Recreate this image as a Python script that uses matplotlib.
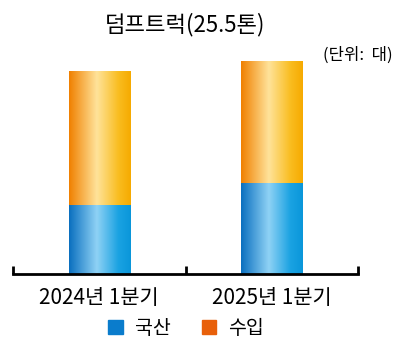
import matplotlib
matplotlib.use("Agg")
import matplotlib.pyplot as plt
import numpy as np
from matplotlib.colors import LinearSegmentedColormap

plt.rcParams['font.family'] = ['Noto Sans CJK KR', 'DejaVu Sans']

categories = ["2024년 1분기", "2025년 1분기"]
domestic = [207, 273]
imported = [402, 366]
series_names = ["국산", "수입"]
title = "덤프트럭(25.5톤)"
unit = "(단위:  대)"

fig = plt.figure(figsize=(4.0, 3.55), dpi=100)
ax = fig.add_axes([13/400, (355-274)/355, 345/400, 240/355])

x = np.arange(len(categories))
w = 0.355
b1 = ax.bar(x, domestic, width=w, color="#0a7ccc", edgecolor="none")
b2 = ax.bar(x, imported, width=w, bottom=domestic, color="#f5a000", edgecolor="none")

blue_cmap = LinearSegmentedColormap.from_list("b", [(0, "#0a6fbf"), (0.45, "#8fd2f5"), (0.8, "#1aa2e2"), (1, "#0a96da")])
orng_cmap = LinearSegmentedColormap.from_list("o", [(0, "#f08000"), (0.45, "#ffe39a"), (0.8, "#f9bd20"), (1, "#f6aa00")])
grad = np.linspace(0, 1, 256).reshape(1, -1)
for bars, cmap in ((b1, blue_cmap), (b2, orng_cmap)):
    for p in bars:
        x0, y0 = p.get_x(), p.get_y()
        im = ax.imshow(grad, cmap=cmap, aspect='auto', extent=[x0, x0 + p.get_width(), y0, y0 + p.get_height()], zorder=2)
        im.set_clip_path(p)

ax.set_xlim(-0.5, 1.5)
ax.set_ylim(0, 720)
for s in ("top", "right", "left"):
    ax.spines[s].set_visible(False)
ax.spines["bottom"].set_linewidth(2)
ax.set_yticks([])
ax.set_xticks(x)
ax.set_xticklabels(categories, fontsize=15)
ax.tick_params(axis='x', which='major', length=0, pad=9)
ax.set_xticks([-0.5, 0.5, 1.5], minor=True)
ax.tick_params(axis='x', which='minor', direction='in', length=6, width=2)

fig.text(185/400, 1 - 25/355, title, ha='center', va='center', fontsize=16)
fig.text(358/400, 1 - 55/355, unit, ha='center', va='center', fontsize=12)

# legend
from matplotlib.patches import Patch
handles = [Patch(color="#0a7ccc"), Patch(color="#e8600a")]
fig.legend(handles, series_names, loc='center', bbox_to_anchor=(186/400, 1 - 328/355), ncol=2,
           frameon=False, fontsize=14, handlelength=0.75, handleheight=0.75, handletextpad=0.6, columnspacing=1.6)

fig.savefig("out.png", dpi=100)
